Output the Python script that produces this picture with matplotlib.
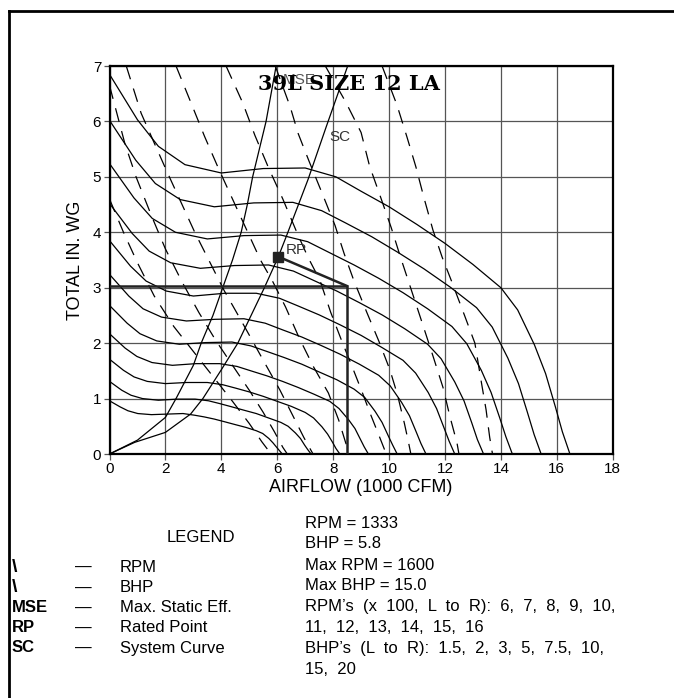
import matplotlib.pyplot as plt
from matplotlib.lines import Line2D

plt.rcParams['font.family'] = ['Liberation Sans', 'DejaVu Sans']
plt.rcParams['lines.scale_dashes'] = False

# fan curves, airflow (1000 cfm) vs total static pressure (in. wg)
rpm_600 = [(0, 0.96), (0.38, 0.85), (0.66, 0.78), (1.01, 0.73), (1.5, 0.71), (2.06, 0.72), (2.63, 0.73), (3.04, 0.70),
           (3.38, 0.67), (3.75, 0.63), (4.13, 0.58), (4.5, 0.53), (4.88, 0.48), (5.25, 0.42), (5.48, 0.37), (5.7, 0.28),
           (5.85, 0.20), (5.98, 0.12), (6.08, 0.06), (6.18, 0)]
rpm_700 = [(0, 1.31), (0.44, 1.15), (0.77, 1.06), (1.18, 1.00), (1.75, 0.97), (2.41, 0.99), (3.06, 0.99), (3.54, 0.96),
           (3.94, 0.91), (4.38, 0.85), (4.81, 0.79), (5.25, 0.73), (5.69, 0.65), (6.13, 0.57), (6.39, 0.50), (6.65, 0.38),
           (6.83, 0.28), (6.98, 0.16), (7.09, 0.08), (7.21, 0)]
rpm_800 = [(0, 1.71), (0.5, 1.51), (0.88, 1.39), (1.35, 1.31), (2.0, 1.27), (2.75, 1.29), (3.5, 1.29), (4.05, 1.25),
           (4.5, 1.19), (5.0, 1.12), (5.5, 1.04), (6.0, 0.95), (6.5, 0.86), (7.0, 0.75), (7.3, 0.65), (7.6, 0.49),
           (7.8, 0.36), (7.98, 0.21), (8.1, 0.10), (8.24, 0)]
rpm_900 = [(0, 2.17), (0.56, 1.91), (0.98, 1.76), (1.52, 1.65), (2.25, 1.60), (3.09, 1.63), (3.94, 1.63), (4.56, 1.58),
           (5.06, 1.50), (5.63, 1.41), (6.19, 1.31), (6.75, 1.20), (7.31, 1.08), (7.88, 0.95), (8.21, 0.82), (8.55, 0.62),
           (8.78, 0.46), (8.97, 0.27), (9.11, 0.13), (9.26, 0)]
rpm_1000 = [(0, 2.68), (0.63, 2.36), (1.09, 2.17), (1.69, 2.04), (2.5, 1.98), (3.44, 2.01), (4.38, 2.02), (5.06, 1.95),
            (5.63, 1.85), (6.25, 1.74), (6.88, 1.62), (7.5, 1.48), (8.13, 1.34), (8.75, 1.17), (9.13, 1.02), (9.5, 0.77),
            (9.75, 0.57), (9.97, 0.33), (10.13, 0.16), (10.29, 0)]
rpm_1100 = [(0, 3.24), (0.69, 2.85), (1.2, 2.62), (1.86, 2.47), (2.75, 2.40), (3.78, 2.43), (4.81, 2.44), (5.57, 2.36),
            (6.19, 2.24), (6.88, 2.11), (7.56, 1.96), (8.25, 1.80), (8.94, 1.62), (9.63, 1.42), (10.04, 1.23),
            (10.45, 0.93), (10.73, 0.69), (10.97, 0.40), (11.14, 0.19), (11.32, 0)]
rpm_1200 = [(0, 3.85), (0.75, 3.39), (1.31, 3.12), (2.03, 2.94), (3.0, 2.85), (4.13, 2.90), (5.25, 2.90), (6.08, 2.81),
            (6.75, 2.67), (7.5, 2.51), (8.25, 2.33), (9.0, 2.14), (9.75, 1.92), (10.5, 1.69), (10.95, 1.46),
            (11.4, 1.11), (11.7, 0.82), (11.96, 0.48), (12.15, 0.23), (12.35, 0)]
rpm_1300 = [(0, 4.52), (0.81, 3.98), (1.42, 3.66), (2.19, 3.45), (3.25, 3.35), (4.47, 3.40), (5.69, 3.41), (6.58, 3.30),
            (7.31, 3.13), (8.13, 2.94), (8.94, 2.73), (9.75, 2.51), (10.56, 2.26), (11.38, 1.98), (11.86, 1.72),
            (12.35, 1.30), (12.68, 0.96), (12.96, 0.56), (13.16, 0.26), (13.38, 0)]
rpm_1400 = [(0, 5.24), (0.875, 4.62), (1.53, 4.25), (2.36, 4.00), (3.5, 3.88), (4.81, 3.94), (6.13, 3.95), (7.09, 3.83),
            (7.88, 3.63), (8.75, 3.41), (9.63, 3.17), (10.5, 2.91), (11.38, 2.62), (12.25, 2.30), (12.78, 1.99),
            (13.3, 1.51), (13.65, 1.11), (13.96, 0.65), (14.18, 0.31), (14.41, 0)]
rpm_1500 = [(0, 6.02), (0.94, 5.30), (1.64, 4.88), (2.53, 4.59), (3.75, 4.46), (5.16, 4.53), (6.56, 4.54), (7.59, 4.39),
            (8.44, 4.17), (9.38, 3.92), (10.31, 3.64), (11.25, 3.34), (12.19, 3.01), (13.13, 2.64), (13.69, 2.29),
            (14.25, 1.73), (14.63, 1.27), (14.95, 0.75), (15.19, 0.35), (15.44, 0)]
rpm_1600 = [(0, 6.85), (1.0, 6.03), (1.75, 5.55), (2.7, 5.22), (4.0, 5.07), (5.5, 5.15), (7.0, 5.16), (8.1, 5.00),
            (9.0, 4.74), (10.0, 4.46), (11.0, 4.14), (12.0, 3.80), (13.0, 3.42), (14.0, 3.00), (14.6, 2.60),
            (15.2, 1.97), (15.6, 1.45), (15.95, 0.85), (16.2, 0.40), (16.47, 0)]

# brake horsepower lines (dashed)
bhp_1_5 = [(0, 4.6), (0.5, 4.0), (1.0, 3.45), (1.6, 2.85), (2.3, 2.3), (3.0, 1.85), (3.7, 1.4), (4.4, 0.95),
           (5.0, 0.55), (5.45, 0.22), (5.78, 0)]
bhp_2 = [(0, 6.65), (0.55, 5.6), (0.95, 5.0), (1.5, 4.3), (2.0, 3.7), (2.6, 3.1), (3.2, 2.55), (3.8, 2.05),
         (4.4, 1.6), (5.0, 1.15), (5.5, 0.75), (5.9, 0.4), (6.2, 0.12), (6.36, 0)]
bhp_3 = [(0.6, 7.0), (1.13, 6.15), (1.61, 5.6), (2.05, 5.1), (2.55, 4.55), (3.05, 4.0), (3.6, 3.45), (4.1, 2.95),
         (4.55, 2.55), (5.05, 2.1), (5.6, 1.6), (6.1, 1.15), (6.55, 0.7), (6.95, 0.3), (7.28, 0)]
bhp_5 = [(2.38, 7.0), (2.92, 6.33), (3.4, 5.73), (3.9, 5.15), (4.4, 4.6), (4.9, 4.05), (5.4, 3.5), (5.85, 3.1),
         (6.3, 2.65), (6.78, 2.1), (7.29, 1.58), (7.83, 1.1), (8.2, 0.61), (8.45, 0.2), (8.6, 0)]
bhp_7_5 = [(4.17, 7.0), (4.77, 6.33), (5.2, 5.75), (5.7, 5.15), (6.2, 4.6), (6.7, 4.0), (7.1, 3.55), (7.53, 3.13),
           (7.91, 2.56), (8.3, 2.05), (8.7, 1.55), (9.05, 1.1), (9.35, 0.7), (9.65, 0.32), (9.9, 0)]
bhp_10 = [(5.93, 7.0), (6.46, 6.27), (6.75, 5.78), (7.14, 5.28), (7.61, 4.7), (8.07, 4.12), (8.39, 3.62),
          (8.74, 3.13), (9.2, 2.56), (9.64, 2.03), (10.03, 1.52), (10.3, 1.07), (10.55, 0.55), (10.7, 0.2), (10.78, 0)]
bhp_15 = [(7.72, 7.0), (8.45, 6.35), (9.0, 5.8), (9.3, 5.2), (9.7, 4.63), (10.08, 4.08), (10.41, 3.55), (10.77, 3.0),
          (11.13, 2.45), (11.57, 1.77), (11.93, 1.2), (12.18, 0.67), (12.43, 0.2), (12.5, 0)]
bhp_20 = [(9.75, 7.0), (10.28, 6.3), (10.64, 5.72), (10.96, 5.18), (11.25, 4.62), (11.57, 4.04), (11.9, 3.55),
          (12.25, 3.1), (12.7, 2.5), (13.07, 2.0), (13.3, 1.3), (13.47, 0.8), (13.6, 0.3), (13.7, 0)]

# max static efficiency and system curve
mse_curve = [(0, 0), (1.0, 0.25), (2.0, 0.66), (2.38, 1.0), (3.0, 1.6), (3.28, 2.0), (3.7, 2.5), (4.05, 3.0),
             (4.4, 3.5), (4.71, 4.0), (4.93, 4.5), (5.12, 5.0), (5.6, 6.0), (5.96, 7.0)]
system_curve = [(0, 0), (0.9, 0.21), (2.0, 0.39), (2.9, 0.72), (3.34, 1.0), (4.0, 1.52), (4.59, 2.0), (5.54, 3.0),
                (6.04, 3.56), (6.32, 3.92), (7.1, 4.95), (7.75, 5.9), (8.52, 7.0)]

rated_point = (6.04, 3.56)
op_cfm = 8.5
op_sp = 3.03

rpm_curves = [rpm_600, rpm_700, rpm_800, rpm_900, rpm_1000, rpm_1100,
              rpm_1200, rpm_1300, rpm_1400, rpm_1500, rpm_1600]
bhp_lines = [bhp_1_5, bhp_2, bhp_3, bhp_5, bhp_7_5, bhp_10, bhp_15, bhp_20]

legend_rows = [("\\", "RPM"), ("\\", "BHP"), ("MSE", "Max. Static Eff."),
               ("RP", "Rated Point"), ("SC", "System Curve")]
info_lines = ["RPM = 1333", "BHP = 5.8", "Max RPM = 1600", "Max BHP = 15.0",
              "RPM\u2019s  (x  100,  L  to  R):  6,  7,  8,  9,  10,",
              "11,  12,  13,  14,  15,  16",
              "BHP\u2019s  (L  to  R):  1.5,  2,  3,  5,  7.5,  10,",
              "15,  20"]

W, H = 674, 698
fig = plt.figure(figsize=(W / 100, H / 100), dpi=100)
ax = fig.add_axes([109.5 / W, 1 - 454 / H, 503.2 / W, 388 / H])

for c in rpm_curves:
    ax.plot([p[0] for p in c], [p[1] for p in c], color='black', lw=0.9, zorder=3)

for b in bhp_lines:
    ax.plot([p[0] for p in b], [p[1] for p in b], color='black', lw=0.9,
            dashes=(10, 7), zorder=3)

ax.plot([p[0] for p in mse_curve], [p[1] for p in mse_curve], color='black', lw=0.9, zorder=3)
ax.plot([p[0] for p in system_curve], [p[1] for p in system_curve], color='black', lw=0.9, zorder=3)

# operating point box
ax.plot([0, op_cfm, op_cfm], [op_sp, op_sp, 0], color='#222222', lw=1.8, zorder=4)
ax.plot([rated_point[0], op_cfm], [rated_point[1], op_sp], color='#222222', lw=1.8, zorder=4)
ax.plot(rated_point[0], rated_point[1], marker='s', ms=7, color='#222222', zorder=5)

ax.text(6.3, 3.68, 'RP', fontsize=11, color='#333333', va='center', zorder=5)
ax.text(7.88, 5.72, 'SC', fontsize=11, color='#333333', va='center', zorder=5)
ax.text(6.2, 6.74, 'MSE', fontsize=11, color='#555555', va='center', zorder=5)
ax.text(8.57, 6.68, '39L SIZE 12 LA', fontsize=15, fontweight='bold', family='DejaVu Serif',
        ha='center', va='center', zorder=6)

ax.set_xlim(0, 18)
ax.set_ylim(0, 7)
ax.set_xticks(range(0, 19, 2))
ax.set_yticks(range(0, 8))
ax.grid(True, color='#555555', lw=0.9)
ax.set_axisbelow(True)
ax.tick_params(length=4, width=0.9, color='#555555', labelsize=11, pad=2)
for s in ax.spines.values():
    s.set_linewidth(1.6)
ax.set_xlabel('AIRFLOW (1000 CFM)', fontsize=13, labelpad=2)
ax.set_ylabel('TOTAL IN. WG', fontsize=13, labelpad=6)

# frame around the sheet
fig.add_artist(Line2D([8.5 / W, 1], [1 - 11 / H, 1 - 11 / H], color='black', lw=2))
fig.add_artist(Line2D([8.5 / W, 8.5 / W], [1 - 11 / H, 0], color='black', lw=2))

# legend block
fig.text(167 / W, 1 - 538 / H, 'LEGEND', fontsize=12, va='center')
row_y = [567, 588, 608, 628, 648]
for (sym, lab), y in zip(legend_rows, row_y):
    fs = 14 if sym == "\\" else 12
    fig.text(12 / W, 1 - y / H, sym, fontsize=fs, fontweight='bold', va='center')
    fig.text(75 / W, 1 - y / H, '\u2014', fontsize=12, va='center')
    fig.text(120 / W, 1 - y / H, lab, fontsize=12, va='center')

info_y = [524, 544, 566, 586, 607, 627, 648, 669]
for t, y in zip(info_lines, info_y):
    fig.text(305 / W, 1 - y / H, t, fontsize=12, va='center')

fig.savefig('out.png', dpi=100)
